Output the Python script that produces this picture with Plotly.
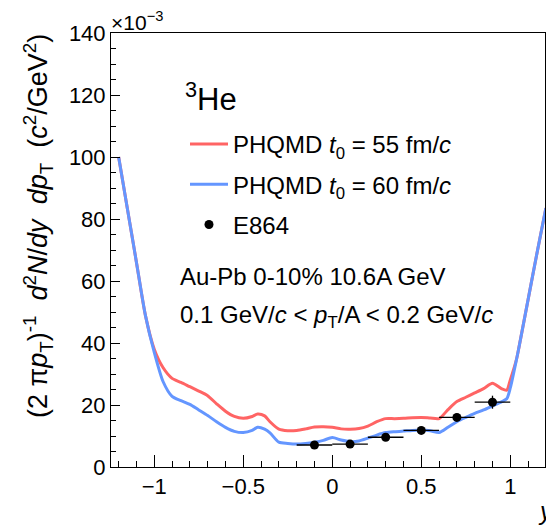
import plotly.graph_objects as go

# ---- data ----
rap_model = [-1.2, -1.15, -1.1, -1.05, -1.0, -0.95, -0.9, -0.85, -0.8, -0.75, -0.7, -0.65,
             -0.6, -0.55, -0.5, -0.45, -0.42, -0.38, -0.35, -0.3, -0.25, -0.2, -0.15, -0.1,
             -0.05, 0.0, 0.05, 0.1, 0.15, 0.2, 0.25, 0.3, 0.35, 0.4, 0.45, 0.5, 0.55, 0.6,
             0.65, 0.7, 0.75, 0.8, 0.85, 0.9, 0.95, 0.98, 1.0, 1.036, 1.05, 1.1, 1.15, 1.2]
phqmd_55 = [100, 83, 66, 49, 38, 32, 28.6, 27.3, 25.9, 24.5, 23.0, 20.4,
            18.0, 16.3, 15.7, 16.3, 17.1, 16.5, 14.6, 12.2, 11.7, 11.8, 12.3, 12.9,
            13.0, 12.8, 12.3, 12.2, 12.4, 13.2, 14.6, 15.6, 15.6, 15.7, 15.9, 16.0, 15.8, 15.6,
            18.5, 21.1, 22.5, 23.9, 25.3, 27.0, 25.3, 24.8, 28.1, 35.0, 39.0, 54.0, 69.0, 83.5]
phqmd_60 = [100, 83, 66, 49, 37, 27.5, 22.8, 21.4, 20.2, 18.4, 16.6, 14.6,
            12.8, 11.5, 11.1, 11.8, 12.8, 12.2, 11.0, 8.0, 7.6, 7.4, 7.6, 8.0,
            8.6, 9.5, 8.7, 8.2, 8.4, 9.3, 10.3, 11.1, 11.4, 11.6, 11.8, 11.9, 11.7, 11.1,
            12.8, 14.6, 16.0, 17.3, 18.4, 19.7, 21.0, 22.0, 25.5, 35.0, 39.0, 54.0, 69.0, 83.5]

rap_e864 = [-0.1, 0.1, 0.3, 0.5, 0.7, 0.9]
yield_e864 = [7.1, 7.4, 9.6, 11.8, 16.0, 20.9]
yerr_e864 = [0.8, 0.8, 1.0, 1.0, 1.2, 2.1]
xerr_e864 = [0.1, 0.1, 0.1, 0.1, 0.1, 0.1]

label_55 = "PHQMD <i>t</i><sub>0</sub> = 55 fm/<i>c</i>"
label_60 = "PHQMD <i>t</i><sub>0</sub> = 60 fm/<i>c</i>"
label_data = "E864"

RED = "#ff6464"
BLUE = "#6496ff"
FONT = "Liberation Sans, Arial, Helvetica, sans-serif"

fig = go.Figure()
fig.add_trace(go.Scatter(x=rap_model, y=phqmd_55, mode="lines", name=label_55,
                         legendgroup="a",
                         line=dict(color=RED, width=3, shape="spline", smoothing=0.7)))
fig.add_trace(go.Scatter(x=rap_model, y=phqmd_60, mode="lines", name=label_60,
                         legendgroup="b",
                         line=dict(color=BLUE, width=3, shape="spline", smoothing=0.7)))
fig.add_trace(go.Scatter(x=rap_e864, y=yield_e864, mode="markers", name=label_data,
                         legendgroup="c",
                         marker=dict(color="black", size=9, symbol="circle"),
                         error_x=dict(type="data", array=xerr_e864, width=0, thickness=1.3, color="black"),
                         error_y=dict(type="data", array=yerr_e864, width=0, thickness=1.3, color="black")))

axis_common = dict(showline=True, linecolor="black", linewidth=1, mirror=True,
                   showgrid=False, zeroline=False, ticks="inside", tickcolor="black",
                   automargin=False,
                   tickfont=dict(family=FONT, size=22, color="black"))

fig.update_layout(
    width=546, height=527,
    margin=dict(l=111, r=1, t=33, b=60, autoexpand=False),
    paper_bgcolor="white", plot_bgcolor="white",
    font=dict(family=FONT, size=22, color="black"),
    xaxis=dict(range=[-1.243, 1.195], dtick=0.5, tick0=0, ticklen=12,
               minor=dict(dtick=0.1, ticklen=6, ticks="inside", tickcolor="black"),
               **axis_common),
    yaxis=dict(range=[0, 140], dtick=20, tick0=0, ticklen=9,
               minor=dict(dtick=5, ticklen=5, ticks="inside", tickcolor="black"),
               **axis_common),
    showlegend=True,
    legend=dict(x=(185 - 111) / 434, xanchor="left", y=(467 - 122) / 434, yanchor="top",
                bgcolor="rgba(0,0,0,0)", borderwidth=0, tracegroupgap=6,
                itemwidth=38, font=dict(family=FONT, size=24, color="black")),
)

ytitle = ("(2&nbsp;π<i>p</i><sub>T</sub>)<sup>-1</sup>&nbsp;&nbsp;<i>d</i><sup>2</sup><i>N</i>/<i>dy</i>"
          "&nbsp;&nbsp;<i>dp</i><sub>T</sub>&nbsp;&nbsp;(<i>c</i><sup>2</sup>/GeV<sup>2</sup>)")

annotations = [
    dict(text="×10<sup>−3</sup>", xref="paper", yref="paper", x=0, y=1, xanchor="left",
         yanchor="middle", xshift=-2, yshift=12, showarrow=False, font=dict(size=21)),
    dict(text=ytitle,
         xref="paper", yref="paper", x=0, y=0.5, xanchor="center", yanchor="middle",
         xshift=-73, yshift=24, textangle=-90, showarrow=False, font=dict(size=27)),
    dict(text="<i>y</i>", xref="paper", yref="paper", x=0.979, y=0, xanchor="left",
         yanchor="middle", yshift=-44, showarrow=False, font=dict(size=25)),
    dict(text="<sup>3</sup>He", xref="x", yref="y", x=-0.84, y=119.4, xanchor="left",
         yanchor="middle", showarrow=False, font=dict(size=31)),
    dict(text="Au-Pb 0-10% 10.6A GeV", xref="x", yref="y", x=-0.867, y=61.6,
         xanchor="left", yanchor="middle", showarrow=False, font=dict(size=24)),
    dict(text="0.1 GeV/<i>c</i> < <i>p</i><sub>T</sub>/A < 0.2 GeV/<i>c</i>", xref="x", yref="y",
         x=-0.867, y=48.5, xanchor="left", yanchor="middle", showarrow=False, font=dict(size=24)),
]
fig.update_layout(annotations=annotations)

fig.write_html("out.html", config={"displayModeBar": False},
               post_script="document.body.style.margin='0';document.body.style.padding='0';")
